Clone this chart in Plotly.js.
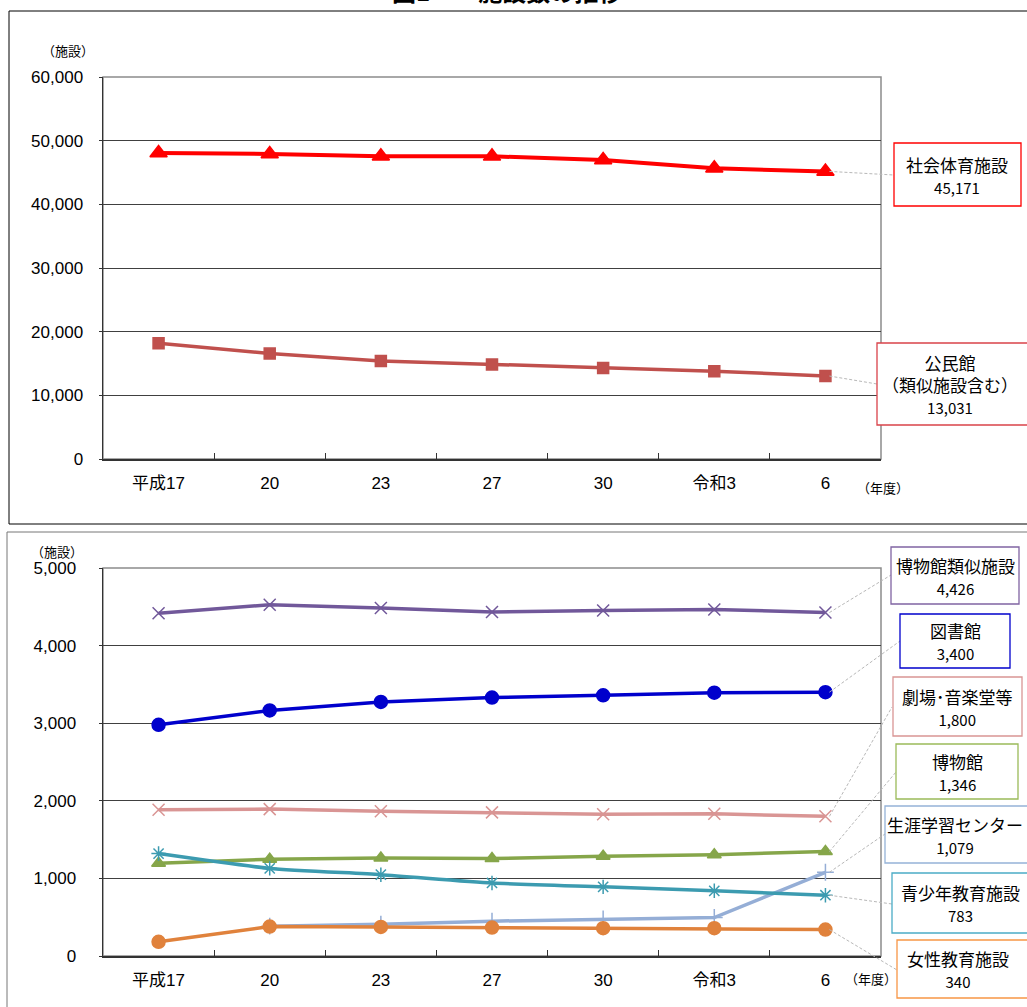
<!DOCTYPE html>
<html>
<head>
<meta charset="utf-8">
<script src="https://cdn.plot.ly/plotly-3.0.1.min.js"></script>
<style>html,body{margin:0;padding:0;background:#fff;}#chart{width:1027px;height:1007px;}</style>
</head>
<body>
<div id="chart"></div>
<script>
// ---- data ----
const categories = ['平成17', '20', '23', '27', '30', '令和3', '6'];
const shakaiTaiiku = [48055, 47925, 47571, 47536, 46981, 45658, 45171];
const kominkan = [18182, 16566, 15399, 14841, 14281, 13798, 13031];
const hakubutsukanRuiji = [4418, 4527, 4485, 4434, 4452, 4466, 4426];
const toshokan = [2979, 3165, 3274, 3331, 3360, 3394, 3400];
const gekijo = [1885, 1893, 1866, 1851, 1827, 1832, 1800];
const hakubutsukan = [1196, 1248, 1262, 1256, 1286, 1305, 1346];
const shogaiCenter = [null, 384, 409, 449, 478, 496, 1079];
const seishonen = [1320, 1129, 1048, 941, 891, 840, 783];
const josei = [183, 380, 375, 367, 358, 358, 340];

// ---- geometry ----
const W = 1027, H = 1007;
const PX = x => x / W;
const PY = y => 1 - y / H;
const TOP = {x0: 103, x1: 881, y0: 77, y1: 459, ymax: 60000};
const BOT = {x0: 103, x1: 881, y0: 568, y1: 956, ymax: 5000};
const FONT = 'Liberation Sans, Noto Sans CJK JP, sans-serif';
const CJK = 'Noto Sans CJK JP, Liberation Sans, sans-serif';

function catPx(g, i) { return g.x0 + (i + 0.5) * (g.x1 - g.x0) / categories.length; }
function valPx(g, v) { return g.y1 - v / g.ymax * (g.y1 - g.y0); }

// ---- series definitions ----
const series = [
  {name: '社会体育施設', y: shakaiTaiiku, ax: 'top', color: '#ff0000', width: 4, symbol: 'triangle-up', msize: 15,
   box: {x0: 894, x1: 1021, y0: 143, y1: 206, color: '#ff0000', cx: 957}, label: ['社会体育施設'], end: [894, 175]},
  {name: '公民館', y: kominkan, ax: 'top', color: '#c0504d', width: 3.5, symbol: 'square', msize: 11,
   box: {x0: 877, x1: 1035, y0: 343, y1: 425, color: '#d9434a', cx: 950}, label: ['公民館', '（類似施設含む）'], end: [877, 384]},
  {name: '博物館類似施設', y: hakubutsukanRuiji, ax: 'bot', color: '#71589a', width: 3.5, symbol: 'x-thin-open', msize: 12,
   box: {x0: 891, x1: 1019, y0: 547, y1: 604, color: '#8064a2', cx: 955}, label: ['博物館類似施設'], end: [891, 575]},
  {name: '図書館', y: toshokan, ax: 'bot', color: '#0000cc', width: 3.5, symbol: 'circle', msize: 13,
   box: {x0: 900, x1: 1010, y0: 614, y1: 668, color: '#0000cc', cx: 955}, label: ['図書館'], end: [900, 641]},
  {name: '劇場・音楽堂等', y: gekijo, ax: 'bot', color: '#d99594', width: 3.5, symbol: 'x-thin-open', msize: 12,
   box: {x0: 893, x1: 1022, y0: 677, y1: 736, color: '#d99594', cx: 957}, label: ['劇場･音楽堂等'], end: [892, 707]},
  {name: '博物館', y: hakubutsukan, ax: 'bot', color: '#86a64a', width: 3.5, symbol: 'triangle-up', msize: 12,
   box: {x0: 896, x1: 1018, y0: 744, y1: 799, color: '#9bbb59', cx: 957}, label: ['博物館'], end: [896, 772]},
  {name: '生涯学習センター', y: shogaiCenter, ax: 'bot', color: '#95aed6', width: 3.5, symbol: 'cross-thin-open', msize: 12,
   box: {x0: 885, x1: 1035, y0: 806, y1: 863, color: '#95b3d7', cx: 955}, label: ['生涯学習センター'], end: [885, 834]},
  {name: '女性教育施設', y: josei, ax: 'bot', color: '#e0823c', width: 3.5, symbol: 'circle', msize: 13,
   box: {x0: 897, x1: 1035, y0: 940, y1: 998, color: '#f79646', cx: 958}, label: ['女性教育施設'], end: [897, 970]},
  {name: '青少年教育施設', y: seishonen, ax: 'bot', color: '#3c9bb0', width: 3.5, symbol: 'asterisk-open', msize: 12, spline: true,
   box: {x0: 892, x1: 1035, y0: 873, y1: 933, color: '#4bacc6', cx: 960}, label: ['青少年教育施設'], end: [892, 904]}
];

const traces = series.map(s => ({
  type: 'scatter', mode: 'lines+markers', name: s.name,
  x: categories, y: s.y,
  xaxis: s.ax === 'top' ? 'x' : 'x2', yaxis: s.ax === 'top' ? 'y' : 'y2',
  line: {color: s.color, width: s.width, shape: s.spline ? 'spline' : 'linear', smoothing: 0.6},
  marker: {symbol: s.symbol, size: s.msize, color: s.color, line: {color: s.color, width: 1.5}},
  connectgaps: false, hoverinfo: 'skip', cliponaxis: false
}));

const shapes = [];
const annotations = [];

// outer frames
shapes.push({type: 'rect', xref: 'paper', yref: 'paper', x0: PX(9), x1: PX(1040), y0: PY(11), y1: PY(524),
  line: {color: '#000', width: 1}});
shapes.push({type: 'rect', xref: 'paper', yref: 'paper', x0: PX(7), x1: PX(1040), y0: PY(532), y1: PY(1015),
  line: {color: '#777', width: 1}});
// plot area frames (gray top/right)
[['x', 'y'], ['x2', 'y2']].forEach(([xa, ya]) => {
  shapes.push({type: 'rect', xref: xa + ' domain', yref: ya + ' domain', x0: 0, x1: 1, y0: 0, y1: 1,
    line: {color: '#8c8c8c', width: 1.5}, layer: 'below'});
});

// callout boxes, labels and leader lines
series.forEach(s => {
  const g = s.ax === 'top' ? TOP : BOT;
  const b = s.box;
  const last = s.y[s.y.length - 1];
  const li = categories.length - 1;
  const sx = catPx(g, li), sy = valPx(g, last);
  shapes.push({type: 'line', xref: 'paper', yref: 'paper',
    x0: PX(sx + 4), y0: PY(sy), x1: PX(s.end[0]), y1: PY(s.end[1]),
    line: {color: '#b8b8b8', width: 1, dash: '3px,2px'}});
  shapes.push({type: 'rect', xref: 'paper', yref: 'paper', x0: PX(b.x0), x1: PX(b.x1), y0: PY(b.y0), y1: PY(b.y1),
    line: {color: b.color, width: 1.3}, fillcolor: '#fff'});
  const txt = s.label.join('<br>') + '<br><span style="font-size:15px">' + last.toLocaleString('en-US') + '</span>';
  annotations.push({xref: 'paper', yref: 'paper', x: PX(b.cx), y: PY((b.y0 + b.y1) / 2), xanchor: 'center', yanchor: 'middle',
    text: txt, showarrow: false, font: {family: CJK, size: 17, color: '#000'}, align: 'center'});
});

// unit labels
[[68, 50, '（施設）'], [57, 551, '（施設）'], [883, 487, '（年度）'], [871, 978, '（年度）']].forEach(([x, y, t]) => {
  annotations.push({xref: 'paper', yref: 'paper', x: PX(x), y: PY(y), xanchor: 'center', yanchor: 'middle',
    text: t, showarrow: false, font: {family: CJK, size: 13, color: '#000'}});
});
// title (cut at top edge)
annotations.push({xref: 'paper', yref: 'paper', x: PX(507), y: PY(10), xanchor: 'center', yanchor: 'bottom',
  text: '<b>図1　　施設数の推移</b>', showarrow: false, font: {family: CJK, size: 24, color: '#000'}});

function xAxis(anchor, g, standoff) {
  return {domain: [PX(g.x0), PX(g.x1)], anchor: anchor, type: 'category', range: [-0.5, 6.5],
    showline: true, linecolor: '#333', linewidth: 1.5, ticks: 'inside', tickson: 'boundaries', ticklen: 6,
    tickcolor: '#333', tickwidth: 1, showgrid: false, zeroline: false, fixedrange: true,
    tickfont: {family: FONT, size: 17, color: '#000'}, ticklabelstandoff: standoff};
}
function yAxis(anchor, g, dtick, standoff) {
  return {domain: [PY(g.y1), PY(g.y0)], anchor: anchor, range: [0, g.ymax], dtick: dtick, tickformat: ',d',
    showline: true, linecolor: '#333', linewidth: 1.5, ticks: 'outside', ticklen: 3, tickcolor: '#333',
    showgrid: true, gridcolor: '#404040', gridwidth: 1, zeroline: false, fixedrange: true,
    tickfont: {family: FONT, size: 17, color: '#000'}, ticklabelstandoff: standoff};
}

const layout = {
  width: W, height: H, margin: {l: 0, r: 0, t: 0, b: 0}, showlegend: false,
  paper_bgcolor: '#fff', plot_bgcolor: '#fff',
  xaxis: xAxis('y', TOP, 8), yaxis: yAxis('x', TOP, 10000, 12),
  xaxis2: xAxis('y2', BOT, 8), yaxis2: yAxis('x2', BOT, 1000, 19),
  shapes: shapes, annotations: annotations
};

Plotly.newPlot('chart', traces, layout, {staticPlot: true});
</script>
</body>
</html>
